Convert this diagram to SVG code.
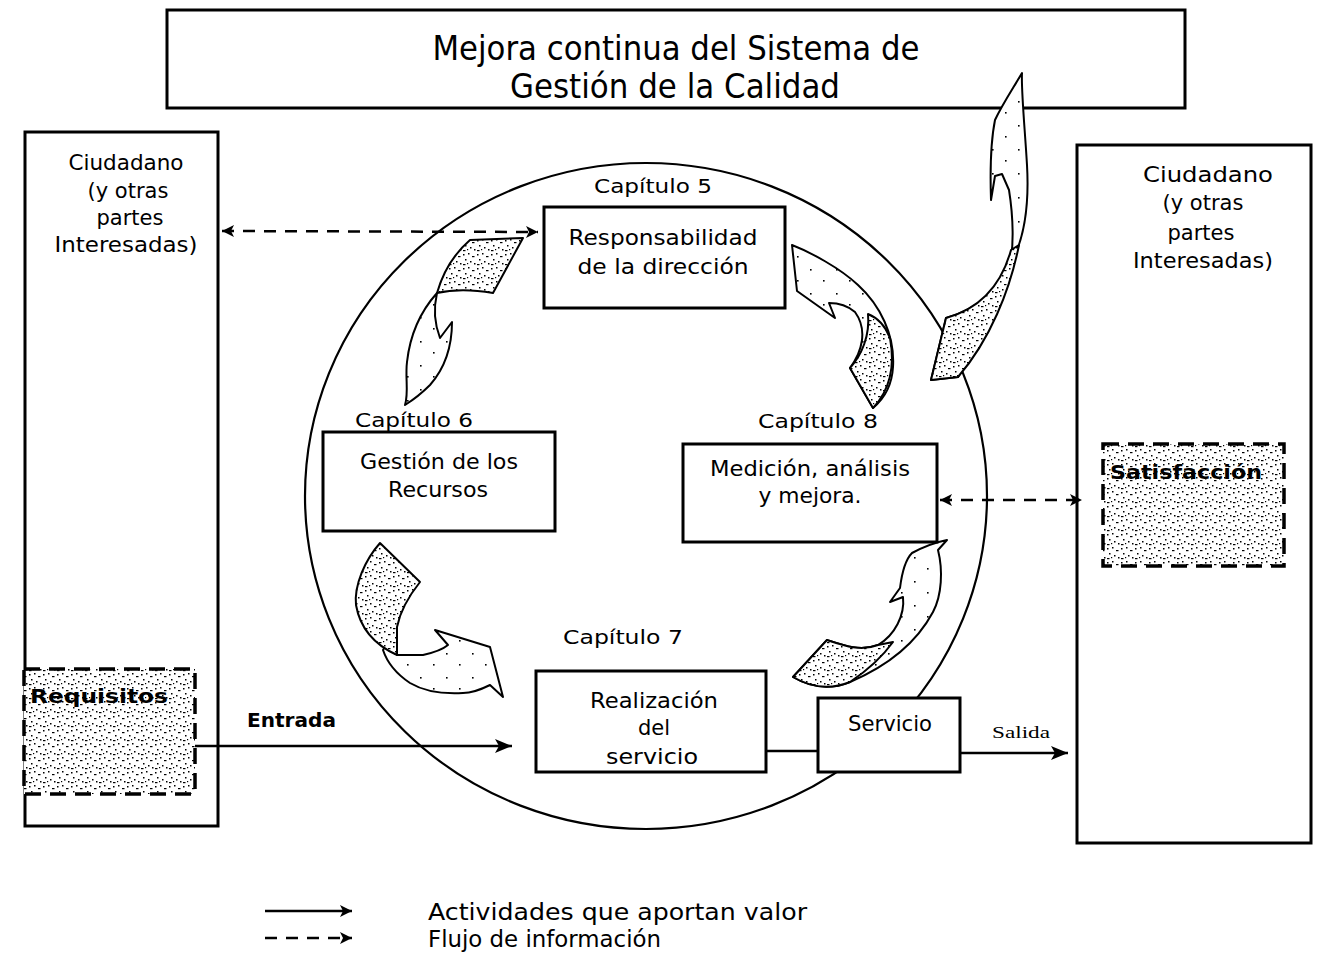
<svg xmlns="http://www.w3.org/2000/svg" width="1325" height="954" viewBox="0 0 1325 954">
<style>
  text { font-family: "DejaVu Sans", "Liberation Sans", sans-serif; fill: #000; }
  .box { fill: #fff; stroke: #000; stroke-width: 3; }
  .big { fill: none; stroke: #000; stroke-width: 3; }
  .dbox { fill: url(#stip); stroke: #000; stroke-width: 3.5; stroke-dasharray: 16 9; }
  .lbl { font-size: 21px; text-anchor: middle; }
  .cap { font-size: 20px; text-anchor: middle; }
  .bold { font-weight: bold; }
  .ribbon { fill: url(#sparse); stroke: #000; stroke-width: 2; stroke-linejoin: round; }
  .shade { fill: url(#stip); stroke: #000; stroke-width: 2; stroke-linejoin: round; }
  .solid { fill: none; stroke: #000; stroke-width: 2.5; }
  .dash { fill: none; stroke: #000; stroke-width: 2.5; stroke-dasharray: 12 9; }
</style>
<defs>
  <pattern id="stip" width="14" height="14" patternUnits="userSpaceOnUse">
    <rect width="14" height="14" fill="#fff"/>
    <g fill="#000">
      <rect x="1" y="2" width="1.5" height="1.5"/>
      <rect x="6" y="1" width="1.5" height="1.5"/>
      <rect x="10" y="4" width="2.5" height="1.2"/>
      <rect x="3" y="7" width="1.5" height="1.5"/>
      <rect x="8" y="9" width="1.5" height="1.5"/>
      <rect x="12" y="11" width="1.5" height="1.5"/>
      <rect x="1" y="12" width="2.5" height="1.2"/>
      <rect x="5" y="11" width="1.2" height="1.2"/>
    </g>
  </pattern>
  <pattern id="sparse" width="26" height="24" patternUnits="userSpaceOnUse">
    <rect width="26" height="24" fill="#fff"/>
    <rect x="4" y="5" width="1.6" height="1.6" fill="#000"/>
    <rect x="17" y="16" width="1.6" height="1.6" fill="#000"/>
  </pattern>
  <marker id="ah" markerUnits="userSpaceOnUse" markerWidth="18" markerHeight="14" refX="17" refY="7" orient="auto-start-reverse">
    <path d="M0,0 L17,7 L0,14 L4,7 Z" fill="#000"/>
  </marker>
  <marker id="ahs" markerUnits="userSpaceOnUse" markerWidth="14" markerHeight="14" refX="13" refY="7" orient="auto-start-reverse">
    <path d="M1,1 L13,7 L1,13 L4,7 Z" fill="#000"/>
  </marker>
</defs>

<rect width="1325" height="954" fill="#fff"/>

<!-- process circle -->
<ellipse id="ciclo" cx="646" cy="496" rx="341" ry="333" fill="none" stroke="#000" stroke-width="2.2"/>

<g id="titulo">
  <rect class="big" x="167" y="10" width="1018" height="98" fill="#fff"/>
  <text x="676" y="60" font-size="33" text-anchor="middle" textLength="487" lengthAdjust="spacingAndGlyphs">Mejora continua del Sistema de</text>
  <text x="675" y="98" font-size="33" text-anchor="middle" textLength="330" lengthAdjust="spacingAndGlyphs">Gestión de la Calidad</text>
</g>

<g id="ciudadano-izq">
  <rect class="big" x="25" y="132" width="193" height="694" fill="#fff"/>
  <text class="lbl" x="126" y="170" textLength="115" lengthAdjust="spacingAndGlyphs">Ciudadano</text>
  <text class="lbl" x="128" y="198">(y otras</text>
  <text class="lbl" x="130" y="225">partes</text>
  <text class="lbl" x="126" y="252" textLength="143" lengthAdjust="spacingAndGlyphs">Interesadas)</text>
</g>

<g id="requisitos">
  <rect class="dbox" x="24" y="669" width="171" height="125"/>
  <text x="30" y="703" font-size="20" class="bold" textLength="138" lengthAdjust="spacingAndGlyphs">Requisitos</text>
</g>

<g id="ciudadano-der">
  <rect class="big" x="1077" y="145" width="234" height="698" fill="#fff"/>
  <text class="lbl" x="1208" y="182" textLength="130" lengthAdjust="spacingAndGlyphs">Ciudadano</text>
  <text class="lbl" x="1203" y="210">(y otras</text>
  <text class="lbl" x="1201" y="240">partes</text>
  <text class="lbl" x="1203" y="268" textLength="140" lengthAdjust="spacingAndGlyphs">Interesadas)</text>
</g>

<g id="satisfaccion">
  <rect class="dbox" x="1103" y="444" width="181" height="122"/>
  <text x="1110" y="479" font-size="20" class="bold" textLength="152" lengthAdjust="spacingAndGlyphs">Satisfacción</text>
</g>

<g id="connectors">
  <line class="dash" x1="222" y1="231" x2="538" y2="232" marker-start="url(#ahs)" marker-end="url(#ahs)"/>
  <line class="dash" x1="940" y1="500" x2="1082" y2="500" marker-start="url(#ahs)" marker-end="url(#ahs)"/>
  <line class="solid" x1="195" y1="746" x2="512" y2="746" marker-end="url(#ah)"/>
  <line class="solid" x1="766" y1="751" x2="818" y2="751"/>
  <line class="solid" x1="960" y1="753" x2="1068" y2="753" marker-end="url(#ah)"/>
  <text x="247" y="727" font-size="20" class="bold" textLength="89" lengthAdjust="spacingAndGlyphs">Entrada</text>
  <text x="992" y="738" font-size="17" style="font-family:'Liberation Serif',serif" textLength="58" lengthAdjust="spacingAndGlyphs">Salida</text>

  <!-- curved flow arrows of the cycle -->
  <g id="flecha-5-6">
    <path class="ribbon" d="M437,293 C433,310 435,325 440,338 L452,322 C452,345 445,368 430,385 C422,393 413,400 405,405 C409,392 405,378 407,362 C410,335 420,312 437,293 Z"/>
    <path class="shade" d="M470,240 L523,238 L493,293 C470,289 450,290 437,293 C443,272 455,253 470,240 Z"/>
  </g>
  <g id="flecha-6-7">
    <path class="ribbon" d="M397,627 L397,655 L423,655 C432,653 442,650 448,645 L435,630 L490,647 L503,697 L490,685 C480,690 470,693 463,693 C445,694 425,692 410,683 C398,675 388,665 383,650 Z"/>
    <path class="shade" d="M380,543 L420,582 C408,597 400,612 397,627 L397,655 C375,645 360,628 356,605 C354,585 365,560 380,543 Z"/>
  </g>
  <g id="flecha-7-8">
    <path class="ribbon" d="M827,640 C842,645 860,652 878,645 C895,635 905,615 903,597 L890,602 L900,588 C902,572 905,560 912,553 C925,546 937,542 947,540 L938,550 C943,570 942,595 933,612 C918,640 890,665 850,682 C835,688 815,690 793,677 Z"/>
    <path class="shade" d="M827,640 C842,645 860,652 878,645 L893,642 C880,660 865,672 850,682 C835,688 815,690 793,677 Z"/>
  </g>
  <g id="flecha-8-5">
    <path class="ribbon" d="M792,245 C810,252 840,268 858,285 C880,305 895,335 893,367 C892,385 885,398 873,408 L850,368 C862,352 868,330 855,312 C848,306 838,303 829,303 L835,318 L797,291 Z"/>
    <path class="shade" d="M850,368 L873,408 C890,390 895,365 890,338 C885,325 878,318 868,314 C870,335 862,355 850,368 Z"/>
  </g>
  <g id="flecha-mejora">
    <path class="ribbon" d="M1022,73 C1021,90 1025,130 1027,165 C1029,200 1026,230 1015,255 C1000,295 985,335 958,377 L931,380 L946,318 C970,312 995,295 1008,270 C1015,250 1013,215 1009,190 L1002,174 L995,176 L991,200 C990,170 991,140 995,120 C1002,105 1012,90 1022,73 Z"/>
    <path class="shade" d="M931,380 L946,318 C975,310 1000,290 1011,250 L1019,245 C1010,290 990,340 958,377 Z"/>
  </g>
</g>

<g id="cap5">
  <text class="cap" x="653" y="193" textLength="118" lengthAdjust="spacingAndGlyphs">Capítulo 5</text>
  <rect class="box" x="544" y="207" width="241" height="101"/>
  <text class="lbl" x="663" y="245" textLength="189" lengthAdjust="spacingAndGlyphs">Responsabilidad</text>
  <text class="lbl" x="663" y="274" textLength="171" lengthAdjust="spacingAndGlyphs">de la dirección</text>
</g>

<g id="cap6">
  <rect class="box" x="323" y="432" width="232" height="99"/>
  <text class="cap" x="414" y="427" textLength="118" lengthAdjust="spacingAndGlyphs">Capítulo 6</text>
  <text class="lbl" x="439" y="469" textLength="158" lengthAdjust="spacingAndGlyphs">Gestión de los</text>
  <text class="lbl" x="438" y="497" textLength="100" lengthAdjust="spacingAndGlyphs">Recursos</text>
</g>

<g id="cap8">
  <text class="cap" x="818" y="428" textLength="120" lengthAdjust="spacingAndGlyphs">Capítulo 8</text>
  <rect class="box" x="683" y="444" width="254" height="98"/>
  <text class="lbl" x="810" y="476" textLength="200" lengthAdjust="spacingAndGlyphs">Medición, análisis</text>
  <text class="lbl" x="810" y="503" textLength="103" lengthAdjust="spacingAndGlyphs">y mejora.</text>
</g>

<g id="cap7">
  <text class="cap" x="623" y="644" textLength="120" lengthAdjust="spacingAndGlyphs">Capítulo 7</text>
  <rect class="box" x="536" y="671" width="230" height="101"/>
  <text class="lbl" x="654" y="708" textLength="128" lengthAdjust="spacingAndGlyphs">Realización</text>
  <text class="lbl" x="654" y="735">del</text>
  <text class="lbl" x="652" y="764" textLength="92" lengthAdjust="spacingAndGlyphs">servicio</text>
</g>

<g id="servicio">
  <rect class="box" x="818" y="698" width="142" height="74"/>
  <text class="lbl" x="890" y="731" textLength="84" lengthAdjust="spacingAndGlyphs">Servicio</text>
</g>

<g id="leyenda">
  <line class="solid" x1="265" y1="911" x2="352" y2="911" marker-end="url(#ahs)"/>
  <line class="dash" x1="265" y1="938" x2="352" y2="938" marker-end="url(#ahs)"/>
  <text x="428" y="920" font-size="23" textLength="379" lengthAdjust="spacingAndGlyphs">Actividades que aportan valor</text>
  <text x="428" y="947" font-size="23" textLength="233" lengthAdjust="spacingAndGlyphs">Flujo de información</text>
</g>
</svg>
